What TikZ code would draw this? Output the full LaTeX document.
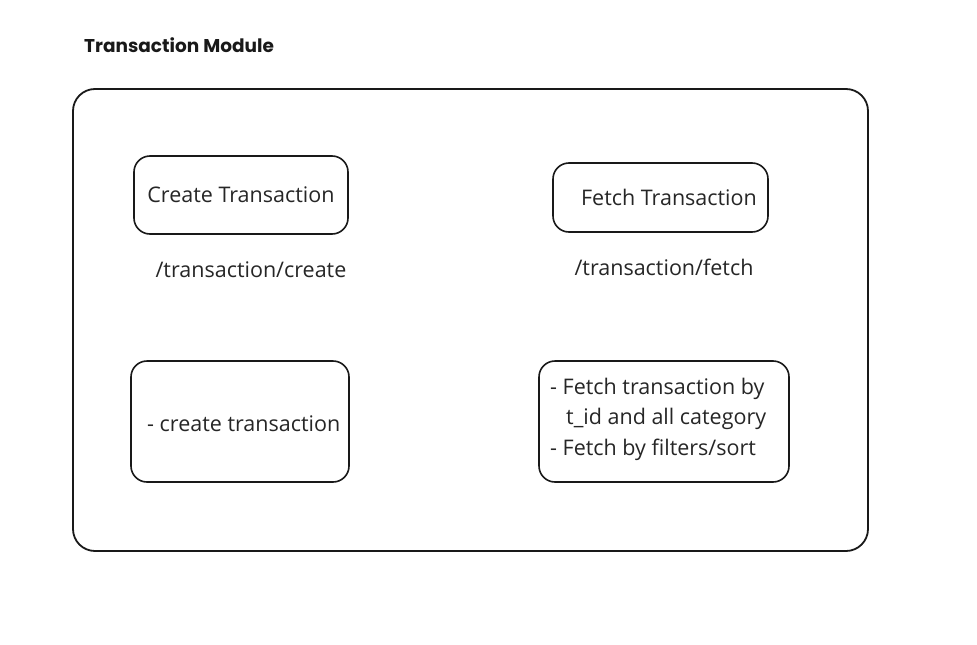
\documentclass[tikz,border=0pt]{standalone}
\usepackage{fontspec}
\setmainfont{Open Sans}
\newfontfamily\titlefont{Poppins}
\begin{document}
\begin{tikzpicture}[x=1pt,y=-1pt,
  sketchbox/.style={draw=black!90, line width=1.6pt, rounded corners=16pt},
  outerbox/.style={draw=black!90, line width=1.8pt, rounded corners=22pt},
  txt/.style={font=\fontsize{21.5}{26}\selectfont, text=black!85, inner sep=0pt},
  lbl/.style={font=\fontsize{21.5}{26}\selectfont, text=black!85, inner sep=0pt},
  ttl/.style={font=\titlefont\bfseries\fontsize{18.5}{22}\selectfont, text=black!90, inner sep=0pt}
]
\useasboundingbox (0,0) rectangle (977,645);
\node[ttl, anchor=west] (title) at (84,45) {Transaction Module};
\draw[outerbox] (73,89) rectangle (868,551);
% boxes
\draw[sketchbox] (134,156) rectangle (348,234);
\node[txt] (create) at (241,195) {Create Transaction};
\draw[sketchbox] (553,163) rectangle (768,232);
\node[txt] (fetch) at (669,197) {Fetch Transaction};
\node[lbl] (createurl) at (251,270) {/transaction/create};
\node[lbl] (fetchurl) at (664,267) {/transaction/fetch};
\draw[sketchbox] (131,361) rectangle (349,482);
\node[txt, anchor=west] (createdesc) at (147,424) {- create transaction};
\draw[sketchbox] (539,361) rectangle (789,482);
\node[txt, anchor=west] (f1) at (550,389) {- Fetch transaction by};
\node[txt, anchor=west] (f2) at (566,419) {t\_id and all category};
\node[txt, anchor=west] (f3) at (550,450) {- Fetch by filters/sort};
\end{tikzpicture}
\end{document}
